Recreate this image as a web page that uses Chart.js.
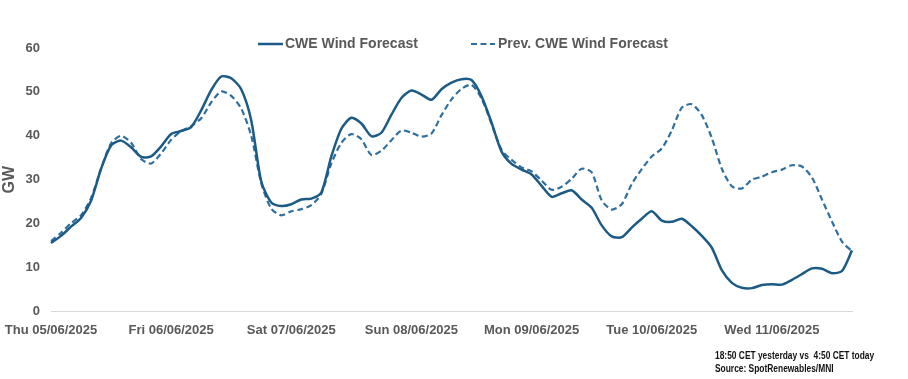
<!DOCTYPE html>
<html>
<head>
<meta charset="utf-8">
<script src="https://cdn.jsdelivr.net/npm/chart.js@4"></script>
<style>
    body { margin: 0; background: #fff; font-family: "Liberation Sans", Arial, sans-serif; }
    #wrap { position: relative; width: 908px; height: 379px; }
    #legend { position: absolute; top: 33px; left: 0; width: 908px; height: 20px; font-weight: bold; font-size: 14px; color: #595959; }
    .item { position: absolute; top: 0; line-height: 20px; white-space: nowrap; }
    .item svg { position: absolute; top: 9px; }
    #notes { position: absolute; left: 715px; top: 349px; font-weight: bold; font-size: 10px; line-height: 13px; color: #111; white-space: nowrap; }
    #notes div { transform: scaleX(0.84); transform-origin: left center; }
</style>
</head>
<body>
<div id="wrap">
    <canvas id="chart" width="908" height="379"></canvas>
    <div id="legend">
        <div class="item" style="left:258px">
            <svg width="25" height="4"><line x1="0" y1="2" x2="25" y2="2" stroke="#1b5b85" stroke-width="2.5"/></svg>
            <span style="margin-left:27px">CWE Wind Forecast</span>
        </div>
        <div class="item" style="left:471px">
            <svg width="24" height="4"><line x1="0" y1="2" x2="24" y2="2" stroke="#2e6fa0" stroke-width="2.2" stroke-dasharray="6,3.5"/></svg>
            <span style="margin-left:27px">Prev. CWE Wind Forecast</span>
        </div>
    </div>
    <div id="notes">
        <div>18:50 CET yesterday vs&nbsp; 4:50 CET today</div>
        <div>Source: SpotRenewables/MNI</div>
    </div>
</div>
<script>
// one value every 2 hours, from Thu 00:00
const dayLabels = ['Thu 05/06/2025', 'Fri 06/06/2025', 'Sat 07/06/2025', 'Sun 08/06/2025',
    'Mon 09/06/2025', 'Tue 10/06/2025', 'Wed 11/06/2025'];
const pointsPerDay = 12;

const cweWind = [
    15.6, 17.2, 19.3, 21.3, 25.2, 32.5, 37.8, 38.9, 37.4, 35.2,
    35.3, 37.6, 40.4, 41.1, 42.0, 45.8, 50.4, 53.5, 53.1, 50.6,
    43.5, 29.6, 24.8, 24.0, 24.4, 25.5, 25.7, 27.1, 35.3, 41.6,
    44.1, 42.8, 39.9, 40.7, 44.8, 48.6, 50.3, 49.4, 48.2, 50.6,
    52.1, 52.9, 52.7, 49.0, 43.0, 36.4, 33.6, 32.3, 31.2, 28.6,
    26.1, 26.9, 27.6, 25.5, 23.6, 19.6, 17.1, 16.9, 19.1, 21.1,
    22.8, 20.7, 20.4, 21.1, 19.4, 17.2, 14.5, 9.4, 6.5, 5.4,
    5.3, 6.0, 6.2, 6.1, 7.2, 8.5, 9.8, 9.7, 8.7, 9.2,
    13.9
];

const prevCweWind = [
    16.0, 17.9, 20.1, 21.9, 25.8, 32.5, 38.3, 40.0, 38.4, 34.7,
    33.7, 36.0, 39.1, 41.1, 42.2, 44.0, 47.6, 50.1, 49.1, 46.2,
    40.0, 29.2, 23.4, 21.9, 22.8, 23.3, 24.2, 26.8, 33.7, 38.4,
    40.4, 39.2, 35.6, 36.6, 39.0, 41.2, 40.7, 39.8, 40.5, 44.7,
    48.3, 50.7, 51.6, 48.5, 42.7, 36.8, 34.5, 32.8, 31.9, 29.8,
    27.7, 28.4, 30.2, 32.5, 31.7, 25.3, 23.2, 24.4, 29.0, 32.4,
    35.3, 37.1, 41.2, 46.4, 47.2, 44.7, 39.5, 32.5, 28.5, 28.0,
    30.0, 30.7, 31.7, 32.3, 33.3, 33.0, 30.5, 25.5, 20.5, 15.9,
    13.7
];

const labels = cweWind.map((_, i) => i % pointsPerDay === 0 ? dayLabels[i / pointsPerDay] : '');

const grey = '#595959';

new Chart(document.getElementById('chart'), {
    type: 'line',
    data: {
        labels: labels,
        datasets: [{
            label: 'CWE Wind Forecast',
            data: cweWind,
            borderColor: '#1b5b85',
            borderWidth: 2.5,
            pointRadius: 0,
            tension: 0.25
        }, {
            label: 'Prev. CWE Wind Forecast',
            data: prevCweWind,
            borderColor: '#2e6fa0',
            borderWidth: 2.2,
            borderDash: [6, 3.5],
            pointRadius: 0,
            tension: 0.25
        }]
    },
    options: {
        responsive: false,
        animation: false,
        layout: { padding: { left: 0, right: 56, top: 48, bottom: 30 } },
        plugins: {
            legend: { display: false },
            tooltip: { enabled: false }
        },
        scales: {
            x: {
                // first label may hang out to the left, like in Excel
                afterFit: scale => { scale.paddingLeft = 0; scale.paddingRight = 0; },
                grid: { display: false, drawTicks: false },
                border: { display: true, color: '#d9d9d9', width: 1 },
                ticks: {
                    autoSkip: false,
                    maxRotation: 0,
                    padding: 11,
                    color: grey,
                    font: { family: 'Liberation Sans', size: 13, weight: 'bold' }
                }
            },
            y: {
                min: 0,
                max: 60,
                afterFit: scale => { scale.width = 51; },
                grid: { display: false, drawTicks: false },
                border: { display: false },
                ticks: {
                    stepSize: 10,
                    padding: 11,
                    color: grey,
                    font: { family: 'Liberation Sans', size: 13, weight: 'bold' }
                },
                title: {
                    display: true,
                    text: 'GW',
                    color: grey,
                    padding: { top: 0, bottom: 0 },
                    font: { family: 'Liberation Sans', size: 16, weight: 'bold' }
                }
            }
        }
    }
});
</script>
</body>
</html>
